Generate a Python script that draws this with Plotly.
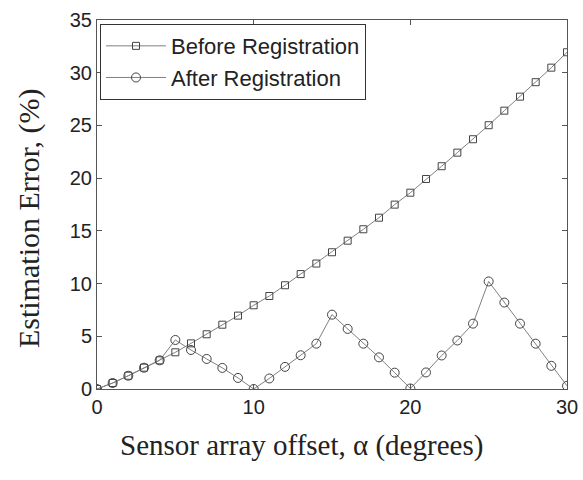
import plotly.graph_objects as go

offset_deg = list(range(0, 31))
before_reg = [0, 0.57, 1.26, 2.02, 2.72, 3.48, 4.33, 5.19, 6.1, 6.96, 7.94,
              8.82, 9.84, 10.9, 11.9, 12.97, 14.07, 15.15, 16.25, 17.49, 18.62,
              19.92, 21.13, 22.42, 23.69, 25.02, 26.4, 27.73, 29.1, 30.48, 31.94]
after_reg = [0, 0.57, 1.26, 2.02, 2.72, 4.65, 3.7, 2.85, 2.0, 1.05, 0,
             1.0, 2.1, 3.2, 4.3, 7.05, 5.7, 4.3, 3.0, 1.55, 0.05,
             1.57, 3.18, 4.6, 6.2, 10.2, 8.2, 6.2, 4.3, 2.2, 0.3]
x_ticks = [0, 10, 20, 30]
y_ticks = [0, 5, 10, 15, 20, 25, 30, 35]

fig = go.Figure()
fig.add_trace(go.Scatter(
    x=offset_deg, y=before_reg, name="Before Registration", mode="lines+markers",
    line=dict(color="#808080", width=1),
    marker=dict(symbol="square-open", size=7, color="#444444", line=dict(width=1)),
))
fig.add_trace(go.Scatter(
    x=offset_deg, y=after_reg, name="After Registration", mode="lines+markers",
    line=dict(color="#808080", width=1),
    marker=dict(symbol="circle-open", size=9, color="#444444", line=dict(width=1)),
))

axis_common = dict(
    showline=True, linecolor="#555555", linewidth=1, mirror="ticks",
    ticks="inside", ticklen=5, tickcolor="#555555", showgrid=False, zeroline=False,
    automargin=False,
    tickfont=dict(family="Liberation Sans, Arial", size=20, color="#222222"),
)
fig.update_xaxes(range=[0, 30], tickvals=x_ticks, **axis_common)
fig.update_yaxes(range=[0, 35], tickvals=y_ticks, **axis_common)

serif = "Liberation Serif, Times New Roman"
fig.add_annotation(text="Sensor array offset, α (degrees)", xref="paper", yref="paper",
                   x=0.436, y=-0.153, xanchor="center", yanchor="middle", showarrow=False,
                   font=dict(family=serif, size=29, color="#222222"))
fig.add_annotation(text="Estimation Error, (%)", xref="paper", yref="paper",
                   x=-0.145, y=0.463, xanchor="center", yanchor="middle", showarrow=False,
                   textangle=-90, font=dict(family=serif, size=30, color="#222222"))

fig.update_layout(
    width=583, height=480,
    margin=dict(l=97, r=16, t=20, b=91, autoexpand=False),
    plot_bgcolor="white", paper_bgcolor="white",
    legend=dict(x=0.0064, y=0.989, xanchor="left", yanchor="top",
                bordercolor="#333333", borderwidth=1, bgcolor="white",
                font=dict(family="Liberation Sans, Arial", size=22, color="#222222"),
                tracegroupgap=0, itemwidth=60),
)

fig.write_html("out.html")
